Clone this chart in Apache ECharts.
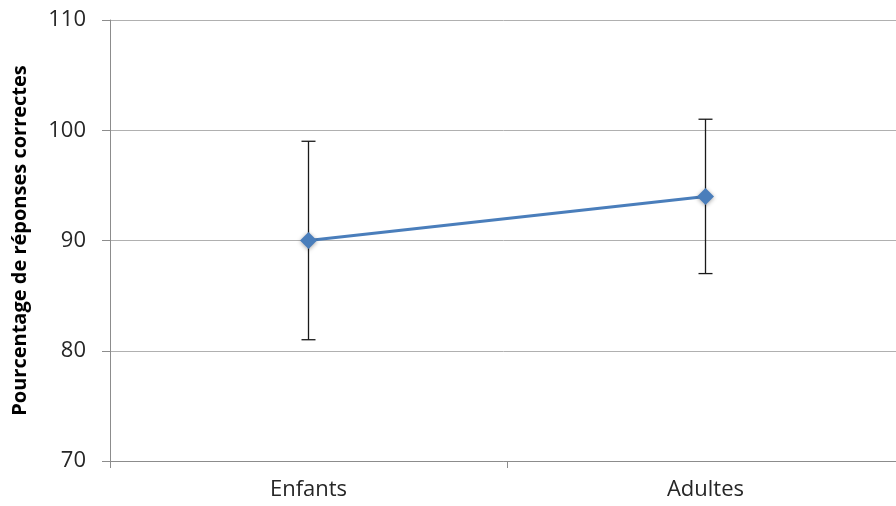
<!DOCTYPE html>
<html><head><meta charset="utf-8">
<script src="https://cdn.jsdelivr.net/npm/echarts@6/dist/echarts.min.js"></script>
<style>html,body{margin:0;padding:0;background:#fff}#c{width:896px;height:506px}</style>
</head><body><div id="c"></div>
<script>
var categories = ['Enfants', 'Adultes'];
var means = [90, 94];
var errLow = [81, 87];
var errHigh = [99, 101];
var yTicks = [70, 80, 90, 100, 110];

var chart = echarts.init(document.getElementById('c'), null, {renderer: 'canvas'});
var errData = categories.map(function (c, i) { return [i, errLow[i], errHigh[i]]; });
chart.setOption({
  animation: false,
  grid: {left: 110, top: 20, right: -8, bottom: 45, containLabel: false, outerBoundsMode: 'none'},
  xAxis: {
    type: 'category', data: categories, boundaryGap: true,
    axisLine: {lineStyle: {color: '#8c8c8c', width: 1}},
    axisTick: {show: true, inside: false, length: 7, lineStyle: {color: '#8c8c8c'}},
    axisLabel: {color: '#262626', fontSize: 22, fontFamily: 'Open Sans', margin: 18}
  },
  yAxis: {
    type: 'value', min: yTicks[0], max: yTicks[yTicks.length - 1], interval: 10,
    name: 'Pourcentage de réponses correctes', nameLocation: 'middle', nameGap: 80,
    nameTextStyle: {fontSize: 20, fontWeight: 'bold', color: '#000', fontFamily: 'Open Sans'},
    axisLine: {show: true, lineStyle: {color: '#8c8c8c', width: 1}},
    axisTick: {show: true, length: 8, lineStyle: {color: '#8c8c8c'}},
    splitLine: {lineStyle: {color: '#b0b0b0', width: 1}},
    axisLabel: {color: '#262626', fontSize: 22, fontFamily: 'Open Sans', margin: 24}
  },
  series: [
    {
      type: 'custom', data: errData, z: 1,
      renderItem: function (params, api) {
        var x = api.coord([api.value(0), api.value(1)])[0];
        var lo = api.coord([api.value(0), api.value(1)])[1];
        var hi = api.coord([api.value(0), api.value(2)])[1];
        var w = 7;
        var st = {stroke: '#1a1a1a', lineWidth: 1.3};
        return {type: 'group', children: [
          {type: 'line', shape: {x1: x, y1: hi, x2: x, y2: lo}, style: st},
          {type: 'line', shape: {x1: x - w, y1: hi, x2: x + w, y2: hi}, style: st},
          {type: 'line', shape: {x1: x - w, y1: lo, x2: x + w, y2: lo}, style: st}
        ]};
      }
    },
    {
      type: 'line', data: means, z: 3,
      symbol: 'diamond', symbolSize: 17,
      lineStyle: {color: '#4a7ebb', width: 3},
      itemStyle: {color: '#4a7ebb', shadowBlur: 4, shadowColor: 'rgba(0,0,0,0.35)', shadowOffsetY: 1}
    }
  ]
});
</script></body></html>
